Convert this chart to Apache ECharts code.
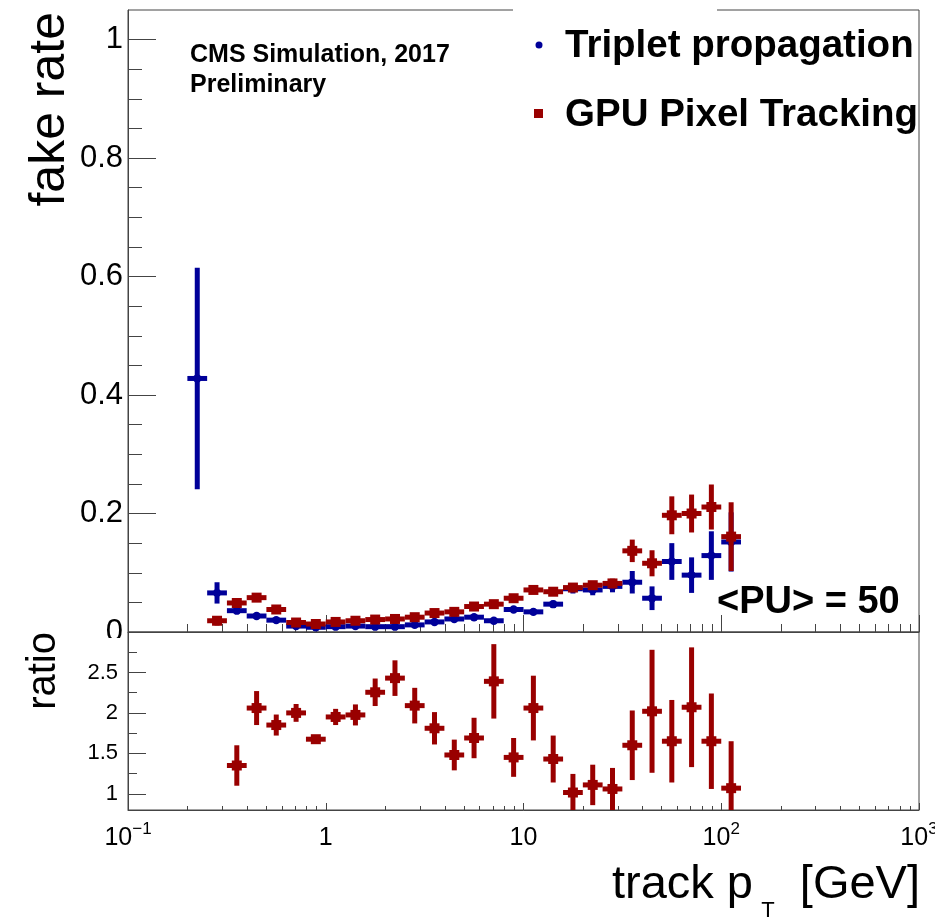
<!DOCTYPE html>
<html>
<head>
<meta charset="utf-8">
<script src="https://cdn.jsdelivr.net/npm/echarts@6/dist/echarts.min.js"></script>
<style>
html,body{margin:0;padding:0;background:#fff;}
#c{width:935px;height:922px;}
</style>
</head>
<body>
<div id="c"></div>
<script>
// ---- data ----
// track pT bin centres [GeV] (log bins, 0.1 decade wide)
const ptBins = [0.224, 0.282, 0.355, 0.447, 0.562, 0.708, 0.891, 1.122, 1.413, 1.778,
                2.239, 2.818, 3.548, 4.467, 5.623, 7.079, 8.913, 11.22, 14.13, 17.78,
                22.39, 28.18, 35.48, 44.67, 56.23, 70.79, 89.13, 112.2];
const binHalfFactor = 1.122; // bin half width in log space (10^0.05)

// Triplet propagation fake rate
const tripletRate = [0.428, 0.066, 0.036, 0.027, 0.020, 0.010, 0.008, 0.009, 0.010, 0.009,
                     0.009, 0.012, 0.017, 0.022, 0.025, 0.019, 0.038, 0.034, 0.047, 0.073,
                     0.071, 0.077, 0.084, 0.057, 0.119, 0.096, 0.129, 0.152];
const tripletErr  = [0.187, 0.018, 0.004, 0.003, 0.003, 0.002, 0.002, 0.002, 0.002, 0.002,
                     0.002, 0.002, 0.003, 0.003, 0.003, 0.003, 0.005, 0.005, 0.006, 0.008,
                     0.009, 0.010, 0.019, 0.020, 0.031, 0.030, 0.041, 0.050];

// GPU Pixel Tracking fake rate
const gpuRate = [null, 0.019, 0.049, 0.058, 0.038, 0.016, 0.0135, 0.017, 0.019, 0.021,
                 0.022, 0.025, 0.032, 0.034, 0.043, 0.047, 0.057, 0.071, 0.068, 0.075,
                 0.079, 0.082, 0.137, 0.116, 0.197, 0.200, 0.211, 0.161];
const gpuErr  = [null, 0.008, 0.006, 0.006, 0.005, 0.003, 0.003, 0.003, 0.003, 0.003,
                 0.003, 0.003, 0.003, 0.003, 0.004, 0.004, 0.005, 0.005, 0.005, 0.006,
                 0.007, 0.008, 0.019, 0.022, 0.032, 0.032, 0.038, 0.058];

// ratio GPU / Triplet
const ratioVal = [null, null, 1.35, 2.06, 1.85, 2.00, 1.675, 1.95, 1.975, 2.255,
                  2.43, 2.09, 1.81, 1.48, 1.69, 2.39, 1.45, 2.06, 1.43, 1.016,
                  1.11, 1.06, 1.60, 2.02, 1.65, 2.07, 1.65, 1.07];
const ratioErr = [null, null, 0.25, 0.21, 0.13, 0.11, 0.03, 0.10, 0.13, 0.17,
                  0.22, 0.22, 0.20, 0.19, 0.25, 0.46, 0.24, 0.40, 0.29, 0.23,
                  0.25, 0.26, 0.43, 0.76, 0.51, 0.74, 0.59, 0.58];

// tick labels
const fakeRateTicks = [0, 0.2, 0.4, 0.6, 0.8, 1];
const fakeRateMinor = [0.05, 0.1, 0.15, 0.25, 0.3, 0.35, 0.45, 0.5, 0.55, 0.65, 0.7, 0.75, 0.85, 0.9, 0.95];
const ratioTicks = [1, 1.5, 2, 2.5];
const ratioMinor = [1.25, 1.75, 2.25, 2.75];

// ---- chart ----
const FONT = '"Liberation Sans", Arial, Helvetica, sans-serif';
const AX = '#444';
const BLUE = '#000099';
const RED = '#990000';

// minor log ticks (2..9 of each decade) on a log10 helper axis
const minorLogPos = [];
[-1, 0, 1, 2].forEach(d => { for (let k = 2; k <= 9; k++) minorLogPos.push(d + Math.log10(k)); });

function buildData(vals, errs) {
  const out = [];
  ptBins.forEach((c, i) => { if (vals[i] != null) out.push([c, vals[i], errs[i]]); });
  return out;
}

function errRenderer(color, marker) {
  return function (params, api) {
    const c = api.value(0), v = api.value(1), e = api.value(2);
    const cs = params.coordSys;
    const p = api.coord([c, v]);
    const pl = api.coord([c / binHalfFactor, v]);
    const ph = api.coord([c * binHalfFactor, v]);
    let yt = api.coord([c, v + e])[1];
    let yb = api.coord([c, v - e])[1];
    yt = Math.max(yt, cs.y); yb = Math.min(yb, cs.y + cs.height);
    const st = { stroke: color, lineWidth: 5, fill: null };
    const children = [
      { type: 'line', shape: { x1: p[0], y1: yt, x2: p[0], y2: yb }, style: st },
      { type: 'line', shape: { x1: pl[0], y1: p[1], x2: ph[0], y2: p[1] }, style: st }
    ];
    if (marker === 'circle') {
      children.push({ type: 'circle', shape: { cx: p[0], cy: p[1], r: 4.2 }, style: { fill: color } });
    } else {
      children.push({ type: 'rect', shape: { x: p[0] - 5, y: p[1] - 5, width: 10, height: 10 }, style: { fill: color } });
    }
    return { type: 'group', children: children };
  };
}

function xLabel(v) {
  if (Math.abs(v - 1) < 1e-9) return '{b|1}';
  if (Math.abs(v - 10) < 1e-6) return '{b|10}';
  const e = Math.round(Math.log10(v));
  return '{b|10}{s|' + (e < 0 ? '\u2212' + (-e) : e) + '}';
}

const chart = echarts.init(document.getElementById('c'), null, { renderer: 'canvas' });

const gridBase = { left: 128, width: 791, show: true, borderColor: AX, borderWidth: 1,
                   backgroundColor: 'transparent', containLabel: false, outerBoundsMode: 'none' };
const noZero = { onZero: false };

const option = {
  animation: false,
  backgroundColor: '#fff',
  grid: [
    Object.assign({ top: 10, height: 622 }, gridBase),
    Object.assign({ top: 632, height: 178 }, gridBase)
  ],
  xAxis: [
    { type: 'log', logBase: 10, min: 0.1, max: 1000, gridIndex: 0, position: 'bottom',
      axisLine: { show: true, onZero: false, lineStyle: { color: AX, width: 1 } },
      axisTick: { show: true, inside: true, length: 17, lineStyle: { color: AX, width: 1 } },
      axisLabel: { show: false }, splitLine: { show: false } },
    { type: 'value', min: -1, max: 3, gridIndex: 0, position: 'bottom',
      axisLine: { show: false, onZero: false },
      axisTick: { show: true, inside: true, length: 8, customValues: minorLogPos, lineStyle: { color: AX, width: 1 } },
      axisLabel: { show: false }, splitLine: { show: false } },
    { type: 'log', logBase: 10, min: 0.1, max: 1000, gridIndex: 1, position: 'bottom',
      axisLine: { show: true, onZero: false, lineStyle: { color: AX, width: 1 } },
      axisTick: { show: true, inside: true, length: 7, lineStyle: { color: AX, width: 1 } },
      axisLabel: { show: true, margin: 11, formatter: xLabel,
        rich: {
          b: { fontSize: 25, fontFamily: FONT, color: '#000', lineHeight: 30, verticalAlign: 'bottom' },
          s: { fontSize: 17, fontFamily: FONT, color: '#000', lineHeight: 27, verticalAlign: 'top' }
        } },
      splitLine: { show: false } },
    { type: 'value', min: -1, max: 3, gridIndex: 1, position: 'bottom',
      axisLine: { show: false, onZero: false },
      axisTick: { show: true, inside: true, length: 4, customValues: minorLogPos, lineStyle: { color: AX, width: 1 } },
      axisLabel: { show: false }, splitLine: { show: false } }
  ],
  yAxis: [
    { type: 'value', min: 0, max: 1.05, gridIndex: 0, position: 'left',
      axisLine: { show: true, onZero: false, lineStyle: { color: AX, width: 1 } },
      axisTick: { show: true, inside: true, length: 28, customValues: fakeRateTicks, lineStyle: { color: AX, width: 1 } },
      axisLabel: { show: true, customValues: fakeRateTicks, margin: 5, fontSize: 31, fontFamily: FONT, color: '#000' },
      splitLine: { show: false } },
    { type: 'value', min: 0, max: 1.05, gridIndex: 0, position: 'left', offset: 0,
      axisLine: { show: false, onZero: false },
      axisTick: { show: true, inside: true, length: 14, customValues: fakeRateMinor, lineStyle: { color: AX, width: 1 } },
      axisLabel: { show: false }, splitLine: { show: false } },
    { type: 'value', min: 0.8, max: 3.0, gridIndex: 1, position: 'left',
      axisLine: { show: true, onZero: false, lineStyle: { color: AX, width: 1 } },
      axisTick: { show: true, inside: true, length: 18, customValues: ratioTicks, lineStyle: { color: AX, width: 1 } },
      axisLabel: { show: true, customValues: ratioTicks, margin: 10, fontSize: 22, fontFamily: FONT, color: '#000' },
      splitLine: { show: false } },
    { type: 'value', min: 0.8, max: 3.0, gridIndex: 1, position: 'left', offset: 0,
      axisLine: { show: false, onZero: false },
      axisTick: { show: true, inside: true, length: 9, customValues: ratioMinor, lineStyle: { color: AX, width: 1 } },
      axisLabel: { show: false }, splitLine: { show: false } }
  ],
  series: [
    { name: 'Triplet propagation', type: 'custom', xAxisIndex: 0, yAxisIndex: 0, clip: true,
      itemStyle: { color: BLUE }, encode: { x: 0, y: 1 },
      data: buildData(tripletRate, tripletErr), renderItem: errRenderer(BLUE, 'circle'), z: 5 },
    { name: 'GPU Pixel Tracking', type: 'custom', xAxisIndex: 0, yAxisIndex: 0, clip: true,
      itemStyle: { color: RED }, encode: { x: 0, y: 1 },
      data: buildData(gpuRate, gpuErr), renderItem: errRenderer(RED, 'square'), z: 6 },
    { name: 'ratio', type: 'custom', xAxisIndex: 2, yAxisIndex: 2, clip: true,
      itemStyle: { color: RED }, encode: { x: 0, y: 1 },
      data: buildData(ratioVal, ratioErr), renderItem: errRenderer(RED, 'square'), z: 6 }
  ],
  graphic: [
    // legend box hides part of the frame
    { type: 'rect', z: 100, shape: { x: 513, y: 4, width: 204, height: 12 }, style: { fill: '#fff' } },
    // lower pad hides the lower part of the "0" label
    { type: 'rect', z: 100, shape: { x: 90, y: 638, width: 36, height: 12 }, style: { fill: '#fff' } },
    { type: 'circle', z: 101, shape: { cx: 539, cy: 45, r: 3.5 }, style: { fill: BLUE } },
    { type: 'text', z: 101, x: 565, y: 46, style: { text: 'Triplet propagation', font: 'bold 38.5px ' + FONT, fill: '#000', align: 'left', verticalAlign: 'middle' } },
    { type: 'rect', z: 101, shape: { x: 534, y: 109, width: 9, height: 9 }, style: { fill: RED } },
    { type: 'text', z: 101, x: 565, y: 115, style: { text: 'GPU Pixel Tracking', font: 'bold 38.5px ' + FONT, fill: '#000', align: 'left', verticalAlign: 'middle' } },
    { type: 'text', z: 101, x: 190, y: 55, style: { text: 'CMS Simulation, 2017', font: 'bold 25px ' + FONT, fill: '#000', align: 'left', verticalAlign: 'middle' } },
    { type: 'text', z: 101, x: 190, y: 85, style: { text: 'Preliminary', font: 'bold 25px ' + FONT, fill: '#000', align: 'left', verticalAlign: 'middle' } },
    { type: 'text', z: 101, x: 717, y: 603, style: { text: '<PU> = 50', font: 'bold 38px ' + FONT, fill: '#000', align: 'left', verticalAlign: 'middle' } },
    { type: 'text', z: 101, x: 50, y: 12, rotation: Math.PI / 2, style: { text: 'fake rate', font: '50px ' + FONT, fill: '#000', align: 'right', verticalAlign: 'middle' } },
    { type: 'text', z: 101, x: 44, y: 632, rotation: Math.PI / 2, style: { text: 'ratio', font: '40px ' + FONT, fill: '#000', align: 'right', verticalAlign: 'middle' } },
    { type: 'text', z: 101, x: 753, y: 885, style: { text: 'track p', font: '47px ' + FONT, fill: '#000', align: 'right', verticalAlign: 'middle' } },
    { type: 'text', z: 101, x: 768, y: 911, style: { text: 'T', font: '22px ' + FONT, fill: '#000', align: 'center', verticalAlign: 'middle' } },
    { type: 'text', z: 101, x: 920, y: 885, style: { text: '[GeV]', font: '47px ' + FONT, fill: '#000', align: 'right', verticalAlign: 'middle' } }
  ]
};
chart.setOption(option);
</script>
</body>
</html>
